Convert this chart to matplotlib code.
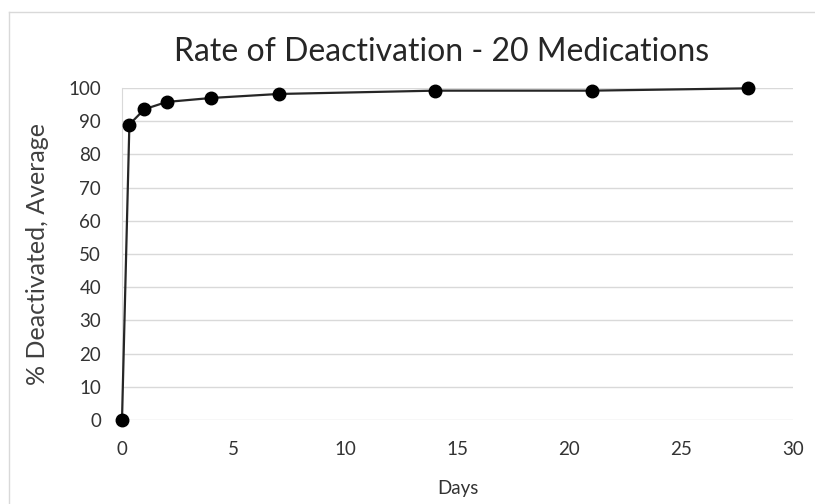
import matplotlib.pyplot as plt
from matplotlib.lines import Line2D

days = [0, 0.33, 1, 2, 4, 7, 14, 21, 28]
pct_deactivated = [0, 89, 93.6, 95.8, 97.0, 98.2, 99.2, 99.2, 99.9]

plt.rcParams['font.family'] = ['Lato', 'DejaVu Sans']

fig = plt.figure(figsize=(8.15, 5.04), dpi=100)
ax = fig.add_axes([122 / 815, 84 / 504, 671 / 815, 332 / 504])

ax.plot(days, pct_deactivated, color='#262626', lw=1.6, marker='o',
        markersize=9, markerfacecolor='black', markeredgecolor='black',
        clip_on=False, zorder=3)

ax.set_xlim(0, 30)
ax.set_ylim(0, 100)
ax.set_xticks(range(0, 31, 5))
ax.set_yticks(range(0, 101, 10))
ax.grid(axis='y', color='#d9d9d9', lw=1)
ax.set_axisbelow(True)
for side in ['top', 'right', 'bottom']:
    ax.spines[side].set_visible(False)
ax.spines['left'].set_color('#d9d9d9')
ax.tick_params(length=0, labelsize=13.5, colors='#333333')
ax.tick_params(axis='y', pad=15)
ax.tick_params(axis='x', pad=15)

# title centred over the chart area rather than the plot area
fig.text(442 / 815, 1 - 52 / 504, 'Rate of Deactivation - 20 Medications',
         fontsize=23, color='#262626', ha='center', va='center')
ax.set_xlabel('Days', fontsize=13.5, color='#333333', labelpad=16)
ax.set_ylabel('% Deactivated, Average', fontsize=18, color='#404040', labelpad=14)

# outer chart border (top and left visible)
fig.add_artist(Line2D([9 / 815, 1], [1 - 12 / 504, 1 - 12 / 504],
                      color='#d9d9d9', lw=1, transform=fig.transFigure))
fig.add_artist(Line2D([9 / 815, 9 / 815], [0, 1 - 12 / 504],
                      color='#d9d9d9', lw=1, transform=fig.transFigure))

fig.savefig('out.png', dpi=100)
